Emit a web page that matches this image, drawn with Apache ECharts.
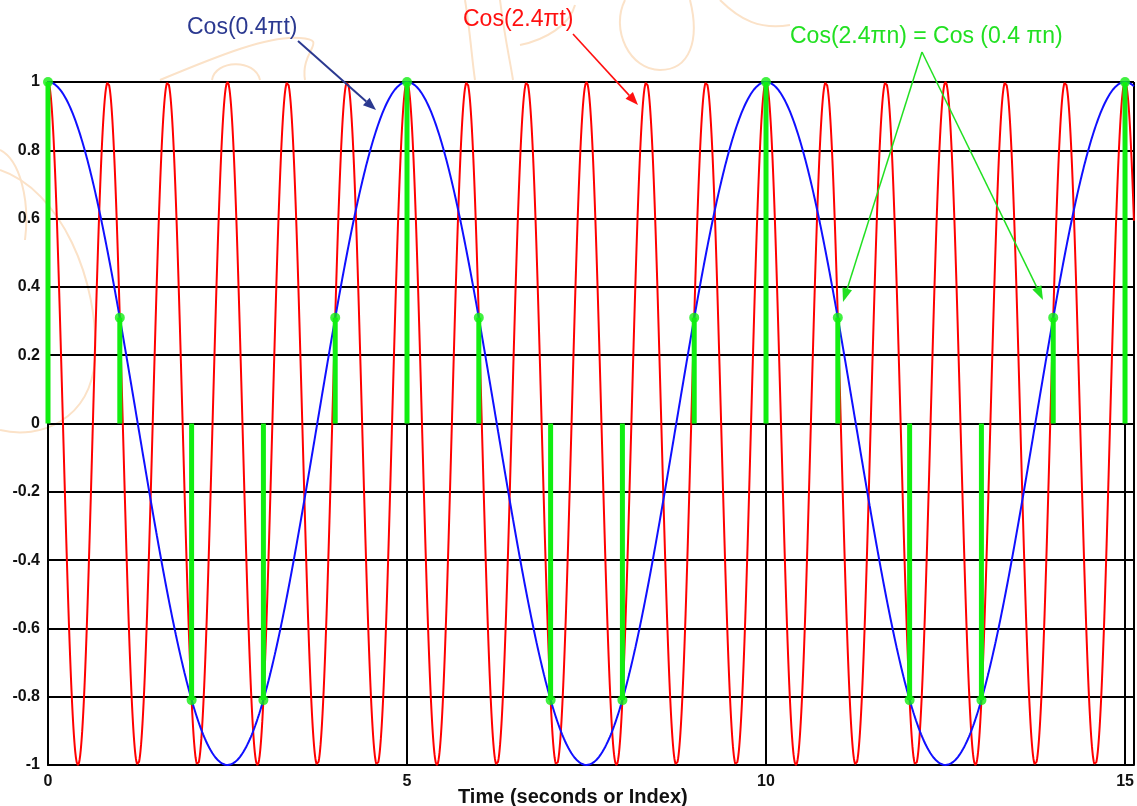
<!DOCTYPE html>
<html>
<head>
<meta charset="utf-8">
<script src="https://cdn.jsdelivr.net/npm/echarts@6/dist/echarts.min.js"></script>
<style>
html,body{margin:0;padding:0;background:#fff;}
#chart{width:1137px;height:806px;}
</style>
</head>
<body>
<div id="chart"></div>
<script>
// ---- data ----
const xTicks = [0, 5, 10, 15];
const yTicks = [-1, -0.8, -0.6, -0.4, -0.2, 0, 0.2, 0.4, 0.6, 0.8, 1];
const curveLabels = ['Cos(0.4\u03c0t)', 'Cos(2.4\u03c0t)'];
const curveFreqs = [0.4, 2.4];            // frequencies as labelled on the curves (multiples of pi)
const sampleIndex = [0, 1, 2, 3, 4, 5, 6, 7, 8, 9, 10, 11, 12, 13, 14, 15];
const sampleValues = [1, 0.31, -0.81, -0.81, 0.31, 1, 0.31, -0.81, -0.81, 0.31, 1, 0.31, -0.81, -0.81, 0.31, 1];
const sampleLabel = 'Cos(2.4\u03c0n) = Cos (0.4 \u03c0n)';
const axisTitle = 'Time (seconds or Index)';
const tEnd = 15.125;

// continuous curves of the labelled functions
function curve(f) {
  const pts = [];
  const step = 0.004;
  for (let t = 0; t <= tEnd + 1e-9; t += step) {
    pts.push([t, Math.cos(f * Math.PI * t)]);
  }
  return pts;
}
const blueCurve = curve(curveFreqs[0]);
const redCurve = curve(curveFreqs[1]);
const stems = sampleIndex.map((n, i) => [n, sampleValues[i]]);

function arrow(x1, y1, x2, y2, color, w, hl, hw) {
  const dx = x2 - x1, dy = y2 - y1, L = Math.sqrt(dx*dx + dy*dy);
  const ux = dx / L, uy = dy / L, px = -uy, py = ux;
  const bx = x2 - ux * hl, by = y2 - uy * hl;
  return [
    {type: 'line', z: 50, shape: {x1: x1, y1: y1, x2: bx, y2: by}, style: {stroke: color, lineWidth: w}},
    {type: 'polygon', z: 50, shape: {points: [[x2, y2], [bx + px*hw, by + py*hw], [bx - px*hw, by - py*hw]]}, style: {fill: color}}
  ];
}

const wm = '#fbe2c8';
function wmCurve(x1, y1, c1x, c1y, c2x, c2y, x2, y2) {
  return {type: 'bezierCurve', z: -10, silent: true,
    shape: {x1: x1, y1: y1, cpx1: c1x, cpy1: c1y, cpx2: c2x, cpy2: c2y, x2: x2, y2: y2},
    style: {fill: null, stroke: wm, lineWidth: 2}};
}
const annFont = '23px "Liberation Sans", Arial, sans-serif';
const graphics = [
  // faint watermark strokes
  wmCurve(0, 170, 60, 190, 100, 280, 95, 360),
  wmCurve(95, 360, 90, 420, 40, 440, 0, 430),
  wmCurve(0, 150, 20, 160, 30, 200, 25, 240),
  wmCurve(160, 80, 220, 55, 270, 35, 300, 38),
  wmCurve(300, 38, 330, 40, 300, 50, 305, 80),
  wmCurve(212, 80, 215, 60, 255, 58, 260, 80),
  wmCurve(465, 0, 470, 30, 472, 60, 475, 80),
  wmCurve(500, 0, 505, 40, 510, 60, 513, 80),
  wmCurve(520, 45, 545, 40, 570, 25, 575, 5),
  wmCurve(625, 0, 610, 30, 630, 70, 660, 70),
  wmCurve(660, 70, 690, 70, 700, 40, 690, 0),
  wmCurve(720, 0, 740, 20, 760, 30, 790, 25),
  // annotations
  {type: 'text', z: 50, left: 187, top: 16, style: {text: curveLabels[0], fill: '#2b3990', font: annFont}},
  {type: 'text', z: 50, left: 463, top: 8, style: {text: curveLabels[1], fill: '#ff1010', font: annFont}},
  {type: 'text', z: 50, left: 790, top: 25, style: {text: sampleLabel, fill: '#22e022', font: annFont}},
  {type: 'text', z: 50, left: 458, top: 787, style: {text: axisTitle, fill: '#111', font: 'bold 20px "Liberation Sans", Arial, sans-serif'}}
]
.concat(arrow(298, 41, 376, 110, '#2b3990', 2, 13, 5))
.concat(arrow(573, 34, 638, 105, '#ff1010', 1.6, 13, 5))
.concat(arrow(922, 52, 843, 302, '#22e022', 1.5, 14, 5))
.concat(arrow(922, 52, 1043, 300, '#22e022', 1.5, 14, 5));

const chart = echarts.init(document.getElementById('chart'), null, {renderer: 'canvas'});
chart.setOption({
  animation: false,
  backgroundColor: '#ffffff',
  grid: {left: 48, right: 0, top: 82, bottom: 41, containLabel: false},
  xAxis: {
    type: 'value', min: 0, max: tEnd, interval: 5,
    axisLine: {show: true, onZero: false, lineStyle: {color: '#000', width: 2}},
    axisTick: {show: false},
    axisLabel: {
      margin: 9, color: '#111', fontWeight: 'bold', fontSize: 16, fontFamily: 'Liberation Sans, Arial, sans-serif',
      formatter: v => (xTicks.indexOf(v) >= 0 ? String(v) : '')
    },
    splitLine: {show: true, lineStyle: {color: '#000', width: 2}}
  },
  yAxis: {
    type: 'value', min: -1, max: 1, interval: 0.2,
    axisLine: {show: true, onZero: false, lineStyle: {color: '#000', width: 2}},
    axisTick: {show: false},
    axisLabel: {
      margin: 8, color: '#111', fontWeight: 'bold', fontSize: 16, fontFamily: 'Liberation Sans, Arial, sans-serif',
      formatter: v => { const r = Math.round(v * 10) / 10; return yTicks.indexOf(r) >= 0 ? String(r) : ''; }
    },
    splitLine: {show: true, lineStyle: {color: '#000', width: 2}}
  },
  series: [
    {
      name: curveLabels[1], type: 'line', data: redCurve, showSymbol: false, z: 3,
      lineStyle: {color: '#ff0000', width: 2}, silent: true
    },
    {
      name: curveLabels[0], type: 'line', data: blueCurve, showSymbol: false, z: 4,
      lineStyle: {color: '#1010ff', width: 2}, silent: true
    },
    {
      name: sampleLabel, type: 'custom', z: 5, data: stems,
      renderItem: function (params, api) {
        const p0 = api.coord([api.value(0), 0]);
        const p1 = api.coord([api.value(0), api.value(1)]);
        return {type: 'line', shape: {x1: p0[0], y1: p0[1], x2: p1[0], y2: p1[1]}, style: {stroke: '#11ee11', lineWidth: 5}};
      },
      encode: {x: 0, y: 1}
    },
    {
      name: sampleLabel + ' pts', type: 'scatter', z: 6, data: stems, symbol: 'circle', symbolSize: 10,
      itemStyle: {color: '#11ee11'}
    }
  ],
  graphic: graphics
});
</script>
</body>
</html>
